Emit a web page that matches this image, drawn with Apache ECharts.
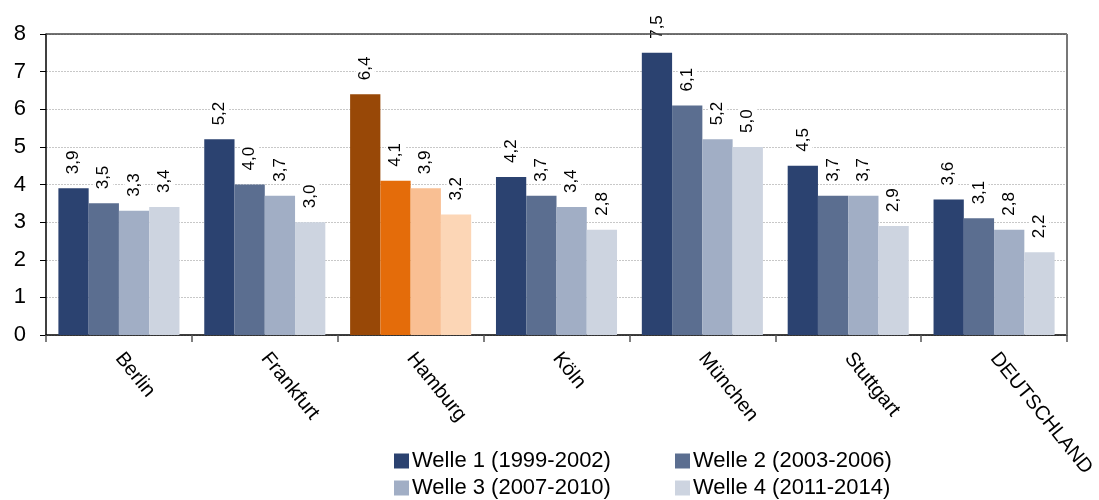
<!DOCTYPE html>
<html>
<head>
<meta charset="utf-8">
<script src="https://cdn.jsdelivr.net/npm/echarts@6/dist/echarts.min.js"></script>
<style>
  html, body { margin: 0; padding: 0; background: #fff; }
  #chart { width: 1099px; height: 500px; }
</style>
</head>
<body>
<div id="chart"></div>
<script>
// Cities and the national average
const categories = ['Berlin', 'Frankfurt', 'Hamburg', 'Köln', 'München', 'Stuttgart', 'DEUTSCHLAND'];

// One array per survey wave
const seriesNames = ['Welle 1 (1999-2002)', 'Welle 2 (2003-2006)', 'Welle 3 (2007-2010)', 'Welle 4 (2011-2014)'];
const welle1 = [3.9, 5.2, 6.4, 4.2, 7.5, 4.5, 3.6];
const welle2 = [3.5, 4.0, 4.1, 3.7, 6.1, 3.7, 3.1];
const welle3 = [3.3, 3.7, 3.9, 3.4, 5.2, 3.7, 2.8];
const welle4 = [3.4, 3.0, 3.2, 2.8, 5.0, 2.9, 2.2];
const yTicks = [0, 1, 2, 3, 4, 5, 6, 7, 8];

// Blue shades for the waves, orange shades for the highlighted city
const blues = ['#2b4270', '#5b6e90', '#a1aec5', '#cdd4e0'];
const oranges = ['#984807', '#e46c0a', '#f9bf93', '#fcd6b6'];
const highlight = 'Hamburg';

const font = '"Liberation Sans", Arial, sans-serif';
const waves = [welle1, welle2, welle3, welle4];

const series = waves.map((vals, i) => ({
  name: seriesNames[i],
  type: 'bar',
  barGap: '0%',
  barCategoryGap: '17%',
  itemStyle: { color: blues[i] },
  data: vals.map((v, j) => categories[j] === highlight
    ? { value: v, itemStyle: { color: oranges[i] } }
    : v),
  label: {
    show: true,
    position: 'top',
    rotate: 90,
    align: 'left',
    verticalAlign: 'middle',
    distance: 12,
    fontFamily: font,
    fontSize: 17,
    color: '#000',
    backgroundColor: '#fff',
    padding: [1, 2],
    formatter: p => p.value.toFixed(1).replace('.', ',')
  }
}));

// One legend block per entry, laid out in two columns
const legendPos = [
  { left: 389, top: 445 },
  { left: 670, top: 445 },
  { left: 389, top: 472 },
  { left: 670, top: 472 }
];
const legend = seriesNames.map((n, i) => ({
  data: [n],
  left: legendPos[i].left,
  top: legendPos[i].top,
  itemWidth: 15,
  itemHeight: 15,
  itemGap: 0,
  icon: 'rect',
  textStyle: { fontFamily: font, fontSize: 22, color: '#000', padding: [0, 0, 0, -2] },
  selectedMode: false
}));

const chart = echarts.init(document.getElementById('chart'), null, { renderer: 'canvas' });
chart.setOption({
  animation: false,
  backgroundColor: '#fff',
  legend: legend,
  grid: {
    left: 46, right: 32, top: 34, bottom: 165,
    outerBoundsMode: 'none',
    containLabel: false,
    show: true, borderColor: 'transparent'
  },
  xAxis: {
    type: 'category',
    data: categories,
    axisLine: { lineStyle: { color: '#000', width: 1.5 } },
    axisTick: { show: true, length: 7, lineStyle: { color: '#555', width: 1.5 } },
    axisLabel: {
      rotate: -51,
      margin: 20,
      fontFamily: font,
      fontSize: 20,
      color: '#000'
    }
  },
  yAxis: {
    type: 'value',
    min: yTicks[0],
    max: yTicks[yTicks.length - 1],
    interval: 1,
    axisLine: { show: true, lineStyle: { color: '#000', width: 1.5 } },
    axisTick: { show: true, length: 6, lineStyle: { color: '#000' } },
    axisLabel: { fontFamily: font, fontSize: 22, color: '#000', margin: 20 },
    splitLine: { show: true, lineStyle: { color: '#c8c8c8', type: [2, 1], width: 1 } }
  },
  graphic: [
    // frame: dark top edge and grey right edge
    { type: 'line', shape: { x1: 46, y1: 34, x2: 1067, y2: 34 }, style: { stroke: '#444', lineWidth: 1.5 }, z: 5 },
    { type: 'line', shape: { x1: 1067, y1: 34, x2: 1067, y2: 335 }, style: { stroke: '#777', lineWidth: 2 }, z: 5 }
  ],
  series: series
});
</script>
</body>
</html>
